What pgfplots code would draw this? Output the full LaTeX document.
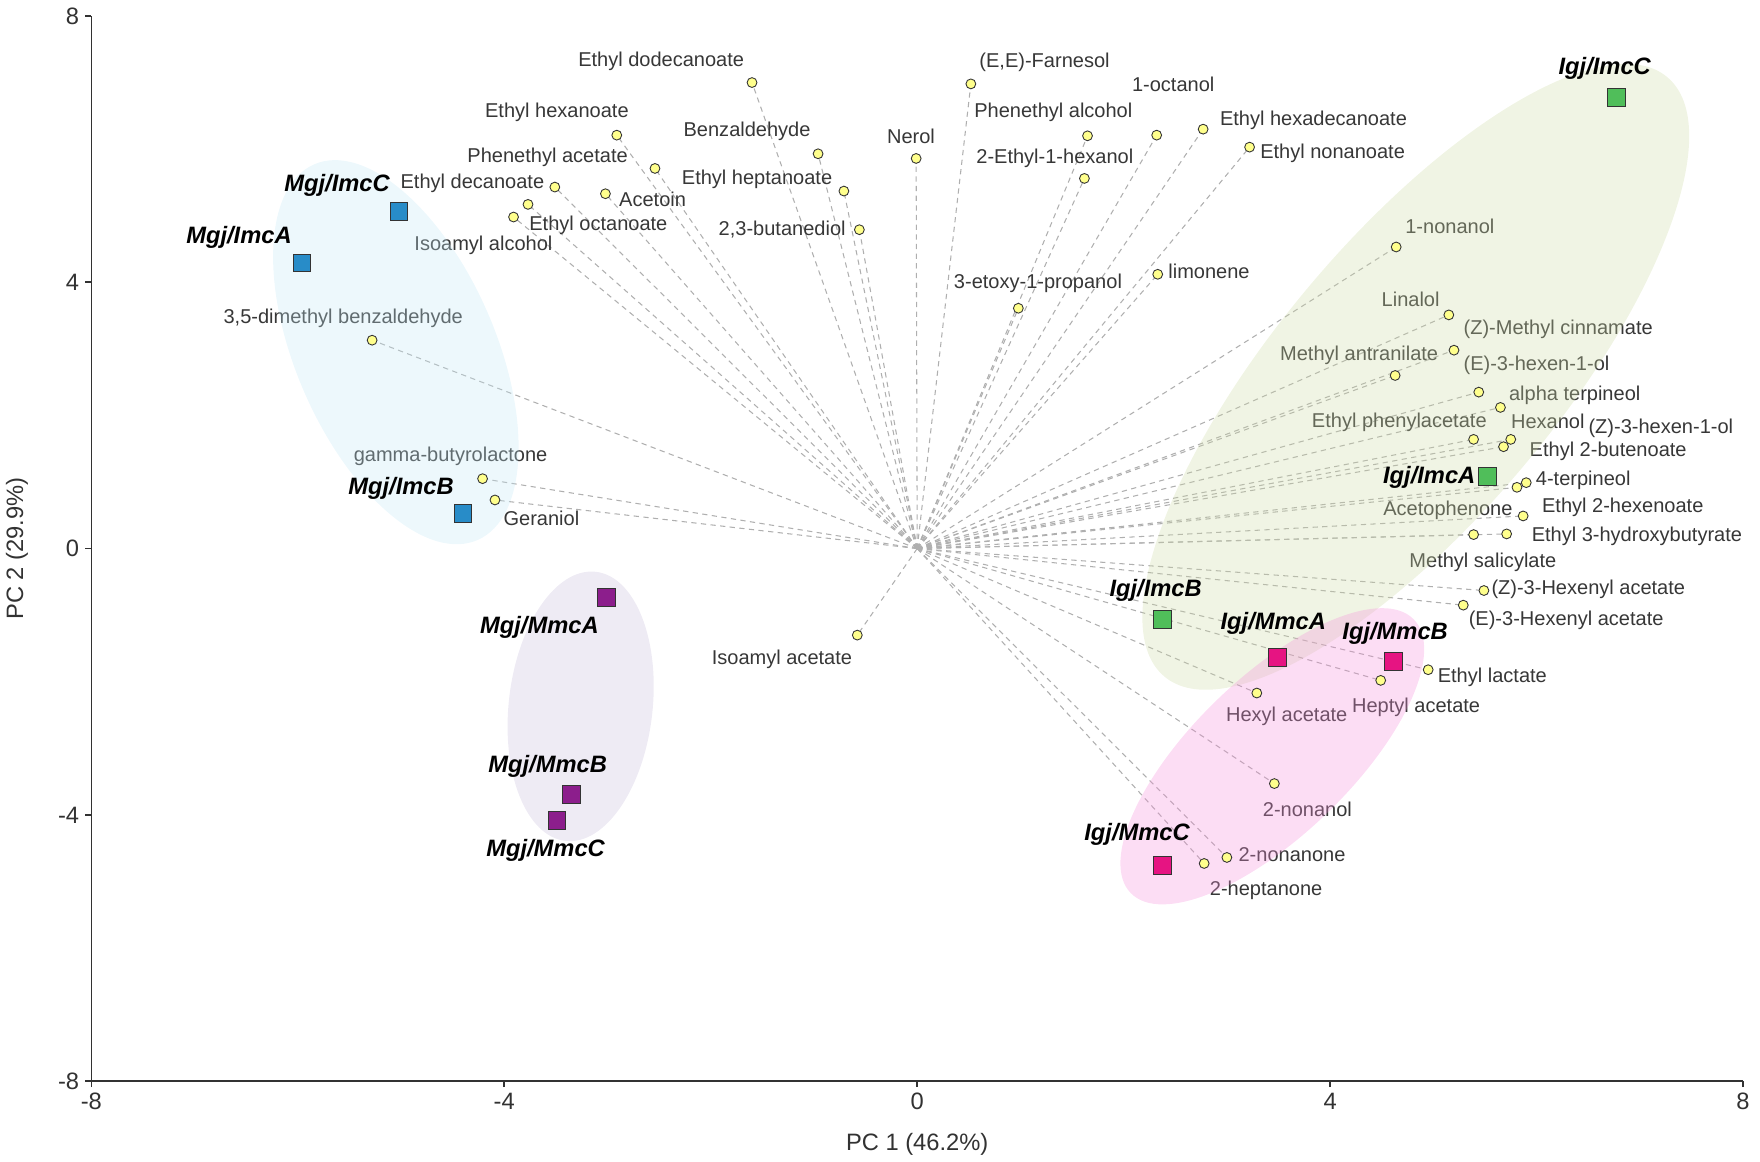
\documentclass[border=0pt]{standalone}
\usepackage{pgfplots}
\pgfplotsset{compat=1.18}
\usepackage{pgfplotstable}
\usepackage{fontspec}
\setmainfont{Liberation Sans}

\definecolor{labgray}{RGB}{55,55,55}
\definecolor{axisgray}{RGB}{50,50,50}
\definecolor{dashgray}{RGB}{175,175,175}
\definecolor{dotyellow}{RGB}{255,255,140}
\definecolor{cMI}{RGB}{40,140,200}
\definecolor{cMM}{RGB}{140,30,140}
\definecolor{cII}{RGB}{80,190,90}
\definecolor{cIM}{RGB}{230,20,130}
\definecolor{eBlue}{RGB}{195,232,245}
\definecolor{ePurple}{RGB}{198,188,218}
\definecolor{eGreen}{RGB}{205,218,165}
\definecolor{ePink}{RGB}{245,142,218}

\pgfplotstableread{
x y
-1.60 7.00
0.52 6.98
1.65 6.20
2.32 6.21
2.77 6.30
3.22 6.03
1.62 5.56
-0.01 5.86
-0.96 5.93
-0.71 5.37
-0.56 4.79
-2.54 5.71
-2.91 6.21
-3.02 5.33
-3.51 5.43
-3.77 5.17
-3.91 4.98
-5.28 3.13
-4.21 1.05
-4.09 0.73
0.98 3.61
2.33 4.12
4.64 4.53
5.15 3.51
5.20 2.98
4.63 2.60
5.44 2.35
5.65 2.12
5.39 1.64
5.75 1.64
5.68 1.53
5.81 0.92
5.90 0.99
5.87 0.49
5.39 0.21
5.71 0.22
5.49 -0.63
5.29 -0.85
4.95 -1.82
4.49 -1.98
3.29 -2.17
3.46 -3.53
3.00 -4.64
2.78 -4.73
-0.58 -1.30
}\loadings

\pgfplotstableread{
x y
-5.96 4.29
-4.40 0.53
-5.02 5.07
}\tMI
\pgfplotstableread{
x y
-3.01 -0.74
-3.35 -3.69
-3.49 -4.08
}\tMM
\pgfplotstableread{
x y
5.52 1.08
2.38 -1.07
6.77 6.77
}\tII
\pgfplotstableread{
x y
3.49 -1.64
4.61 -1.70
2.38 -4.76
}\tIM

\begin{document}
\begin{tikzpicture}[
  lab/.style={font=\fontsize{11.4}{13}\selectfont, text=labgray, inner sep=0pt},
  slab/.style={font=\fontsize{13.5}{15}\selectfont\bfseries\itshape, text=black, inner sep=0pt},
]
\begin{axis}[
  scale only axis, width=33.06cm, height=21.32cm,
  xmin=-8, xmax=8, ymin=-8, ymax=8,
  axis x line*=bottom, axis y line*=left,
  axis line style={-, draw=axisgray, line width=0.9pt},
  xtick={-8,-4,0,4,8}, ytick={-8,-4,0,4,8},
  xticklabels={-8,-4,0,4,8}, yticklabels={-8,-4,0,4,8},
  tick align=outside, major tick length=0.12cm,
  tick style={draw=axisgray, line width=0.9pt},
  tick label style={font=\fontsize{13.5}{15}\selectfont, text=axisgray},
  clip=false,
]
% dashed loading vectors
\addplot[quiver={u=\thisrow{x}, v=\thisrow{y}}, draw=dashgray, line width=0.6pt,
  dash pattern=on 3pt off 2.5pt] table[x expr=0, y expr=0] {\loadings};
% loading points
\addplot[only marks, mark=*, mark size=2.8pt,
  mark options={fill=dotyellow, draw=black!80, line width=0.5pt, solid}] table {\loadings};

% loading labels
\node[lab] at (axis cs:-2.48,7.32) {Ethyl dodecanoate};
\node[lab, anchor=west] at (axis cs:0.60,7.31) {(E,E)-Farnesol};
\node[lab, anchor=west] at (axis cs:0.55,6.56) {Phenethyl alcohol};
\node[lab] at (axis cs:2.48,6.97) {1-octanol};
\node[lab, anchor=west] at (axis cs:2.93,6.44) {Ethyl hexadecanoate};
\node[lab, anchor=west] at (axis cs:3.32,5.93) {Ethyl nonanoate};
\node[lab, anchor=west] at (axis cs:0.57,5.86) {2-Ethyl-1-hexanol};
\node[lab] at (axis cs:-0.06,6.19) {Nerol};
\node[lab, anchor=east] at (axis cs:-1.03,6.26) {Benzaldehyde};
\node[lab, anchor=east] at (axis cs:-0.82,5.54) {Ethyl heptanoate};
\node[lab, anchor=east] at (axis cs:-0.69,4.79) {2,3-butanediol};
\node[lab] at (axis cs:-3.49,6.55) {Ethyl hexanoate};
\node[lab] at (axis cs:-3.58,5.88) {Phenethyl acetate};
\node[lab, anchor=east] at (axis cs:-3.61,5.48) {Ethyl decanoate};
\node[lab, anchor=west] at (axis cs:-2.89,5.24) {Acetoin};
\node[lab, anchor=west] at (axis cs:-3.76,4.85) {Ethyl octanoate};
\node[lab, anchor=east] at (axis cs:-3.53,4.56) {Isoamyl alcohol};
\node[lab] at (axis cs:-5.56,3.46) {3,5-dimethyl benzaldehyde};
\node[lab] at (axis cs:-4.52,1.39) {gamma-butyrolactone};
\node[lab, anchor=west] at (axis cs:-4.01,0.46) {Geraniol};
\node[lab] at (axis cs:1.17,3.99) {3-etoxy-1-propanol};
\node[lab, anchor=west] at (axis cs:2.43,4.16) {limonene};
\node[lab] at (axis cs:5.16,4.84) {1-nonanol};
\node[lab] at (axis cs:4.78,3.75) {Linalol};
\node[lab, anchor=west] at (axis cs:5.29,3.29) {(Z)-Methyl cinnamate};
\node[lab, anchor=east] at (axis cs:5.05,2.90) {Methyl antranilate};
\node[lab, anchor=west] at (axis cs:5.29,2.76) {(E)-3-hexen-1-ol};
\node[lab, anchor=west] at (axis cs:5.73,2.30) {alpha terpineol};
\node[lab, anchor=east] at (axis cs:5.52,1.90) {Ethyl phenylacetate};
\node[lab, anchor=west] at (axis cs:5.75,1.91) {Hexanol};
\node[lab, anchor=west] at (axis cs:6.50,1.81) {(Z)-3-hexen-1-ol};
\node[lab, anchor=west] at (axis cs:5.93,1.46) {Ethyl 2-butenoate};
\node[lab, anchor=west] at (axis cs:5.99,1.03) {4-terpineol};
\node[lab, anchor=east] at (axis cs:5.77,0.58) {Acetophenone};
\node[lab, anchor=west] at (axis cs:6.05,0.62) {Ethyl 2-hexenoate};
\node[lab, anchor=west] at (axis cs:5.95,0.19) {Ethyl 3-hydroxybutyrate};
\node[lab] at (axis cs:5.48,-0.20) {Methyl salicylate};
\node[lab, anchor=west] at (axis cs:5.56,-0.61) {(Z)-3-Hexenyl acetate};
\node[lab, anchor=west] at (axis cs:5.34,-1.08) {(E)-3-Hexenyl acetate};
\node[lab, anchor=west] at (axis cs:5.04,-1.94) {Ethyl lactate};
\node[lab, anchor=west] at (axis cs:4.21,-2.39) {Heptyl acetate};
\node[lab] at (axis cs:3.58,-2.52) {Hexyl acetate};
\node[lab] at (axis cs:3.78,-3.91) {2-nonanol};
\node[lab, anchor=west] at (axis cs:3.11,-4.59) {2-nonanone};
\node[lab] at (axis cs:3.38,-5.13) {2-heptanone};
\node[lab] at (axis cs:-1.31,-1.67) {Isoamyl acetate};

% group ellipses
\fill[eBlue, fill opacity=0.3, rotate around={-66.5:(axis cs:-5.05,2.95)}]
  (axis cs:-5.05,2.95) ellipse [x radius=4.1cm, y radius=2.0cm];
\fill[ePurple, fill opacity=0.3, rotate around={83.6:(axis cs:-3.26,-2.37)}]
  (axis cs:-3.26,-2.37) ellipse [x radius=2.71cm, y radius=1.44cm];
\fill[eGreen, fill opacity=0.3, rotate around={50:(axis cs:4.83,2.58)}]
  (axis cs:4.83,2.58) ellipse [x radius=7.83cm, y radius=2.8cm];
\fill[ePink, fill opacity=0.3, rotate around={44:(axis cs:3.44,-3.12)}]
  (axis cs:3.44,-3.12) ellipse [x radius=3.94cm, y radius=1.58cm];

% samples
\addplot[only marks, mark=square*, mark size=5.1pt,
  mark options={fill=cMI, draw=black!80, line width=0.5pt}] table {\tMI};
\addplot[only marks, mark=square*, mark size=5.1pt,
  mark options={fill=cMM, draw=black!80, line width=0.5pt}] table {\tMM};
\addplot[only marks, mark=square*, mark size=5.1pt,
  mark options={fill=cII, draw=black!80, line width=0.5pt}] table {\tII};
\addplot[only marks, mark=square*, mark size=5.1pt,
  mark options={fill=cIM, draw=black!80, line width=0.5pt}] table {\tIM};

\node[slab] at (axis cs:-5.62,5.46) {Mgj/ImcC};
\node[slab] at (axis cs:-6.57,4.68) {Mgj/ImcA};
\node[slab] at (axis cs:-5.00,0.91) {Mgj/ImcB};
\node[slab] at (axis cs:-3.66,-1.19) {Mgj/MmcA};
\node[slab] at (axis cs:-3.58,-3.27) {Mgj/MmcB};
\node[slab] at (axis cs:-3.60,-4.54) {Mgj/MmcC};
\node[slab] at (axis cs:6.66,7.22) {Igj/ImcC};
\node[slab, anchor=east] at (axis cs:5.41,1.07) {Igj/ImcA};
\node[slab] at (axis cs:2.31,-0.63) {Igj/ImcB};
\node[slab] at (axis cs:3.45,-1.12) {Igj/MmcA};
\node[slab] at (axis cs:4.63,-1.28) {Igj/MmcB};
\node[slab] at (axis cs:2.13,-4.29) {Igj/MmcC};
\end{axis}

% axis titles
\node[font=\fontsize{13.5}{15}\selectfont, text=axisgray]
  at ([yshift=-1.26cm]current axis.south) {PC 1 (46.2\%)};
\node[rotate=90, font=\fontsize{13.5}{15}\selectfont, text=axisgray]
  at ([xshift=-1.49cm]current axis.west) {PC 2 (29.9\%)};
% page frame
\path ([xshift=-1.8cm,yshift=-1.6cm]current axis.south west)
      ([xshift=0.34cm,yshift=0.32cm]current axis.north east);
\end{tikzpicture}
\end{document}
